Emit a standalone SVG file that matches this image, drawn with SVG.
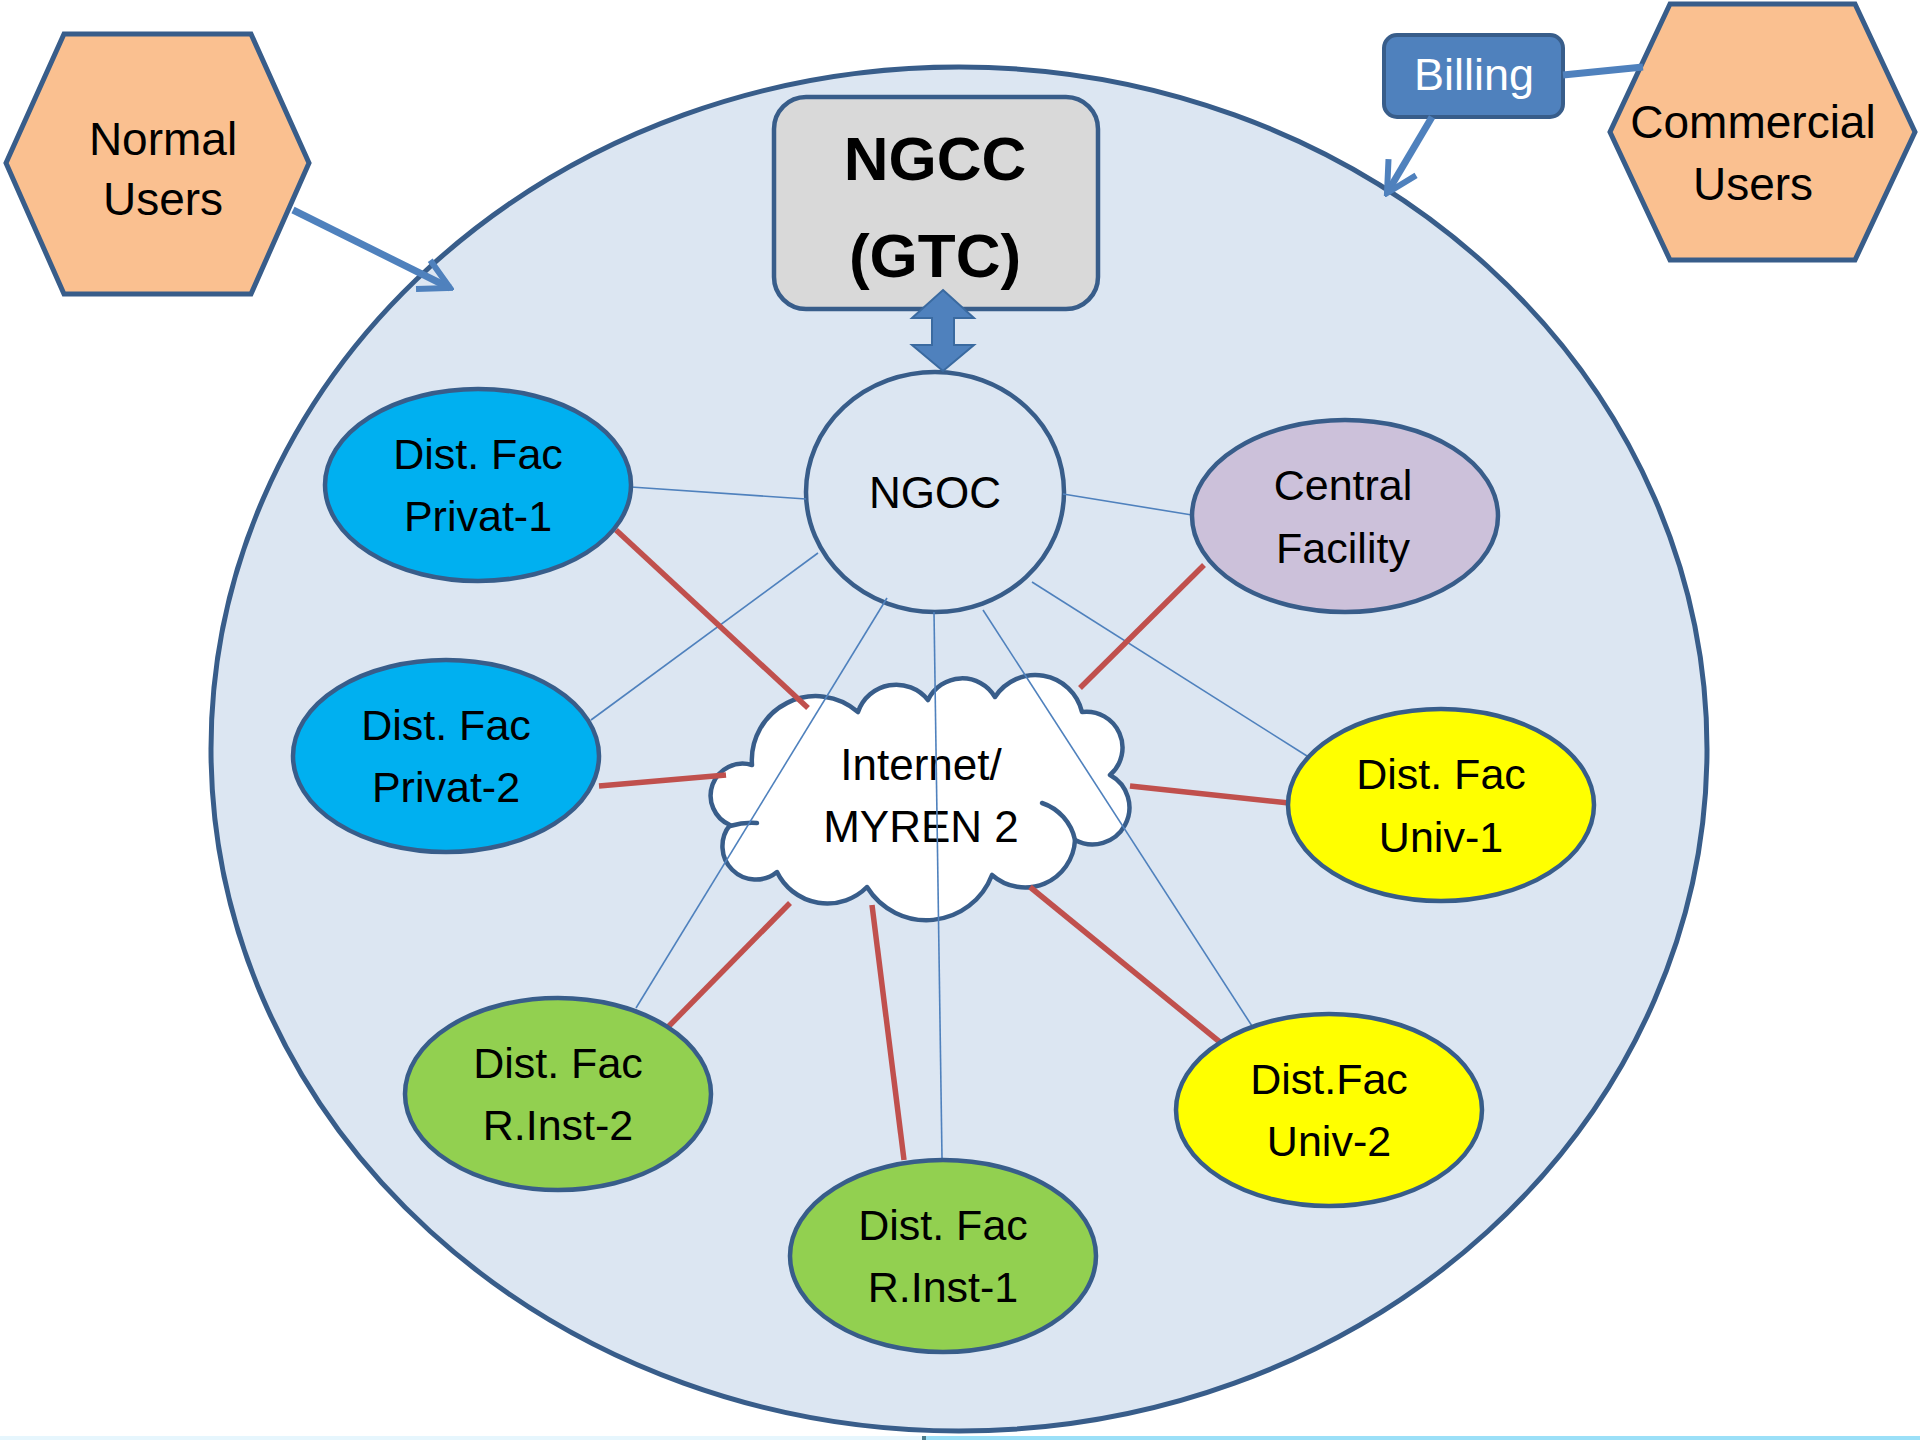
<svg xmlns="http://www.w3.org/2000/svg" width="1920" height="1440" viewBox="0 0 1920 1440">
  <style>
    text { font-family: "Liberation Sans", Arial, sans-serif; fill: #000; text-anchor: middle; }
    .lbl { font-size: 43px; }
    .usr { font-size: 46px; }
    .node { stroke: #385d8a; stroke-width: 4.5; }
    .hex { fill: #fac090; stroke: #385d8a; stroke-width: 5; }
    .thin { stroke: #4f81bd; stroke-width: 1.6; fill: none; }
    .red { stroke: #c0504d; stroke-width: 5.5; fill: none; }
    .arrow { stroke: #4f81bd; stroke-width: 7; fill: none; }
  </style>
  <defs>
    <marker id="openArrow" viewBox="0 0 40 40" refX="36" refY="20" markerWidth="40" markerHeight="40" markerUnits="userSpaceOnUse" orient="auto">
      <path d="M6,4 L36,20 L6,36" fill="none" stroke="#4f81bd" stroke-width="6" stroke-linejoin="miter"/>
    </marker>
  </defs>

  <rect x="0" y="0" width="1920" height="1440" fill="#ffffff"/>

  <!-- bottom strip -->
  <rect x="0" y="1436" width="922" height="4" fill="#e6f6fd"/>
  <rect x="922" y="1436" width="4" height="4" fill="#4a7d8c"/>
  <rect x="926" y="1436" width="994" height="4" fill="#9be0f8"/>

  <g id="system-boundary">
    <ellipse cx="959" cy="749" rx="748" ry="682" fill="#dce6f2" stroke="#385d8a" stroke-width="5"/>
  </g>

  <g id="normal-users">
    <polygon class="hex" points="64,34 251,34 309,163 251,294 64,294 6,163"/>
    <text class="usr" x="163" y="155">Normal</text>
    <text class="usr" x="163" y="215">Users</text>
  </g>

  <g id="commercial-users">
    <polygon class="hex" points="1670,4 1855,4 1915,132 1855,260 1670,260 1610,132"/>
    <text class="usr" x="1753" y="138">Commercial</text>
    <text class="usr" x="1753" y="200">Users</text>
  </g>

  <g id="billing">
    <rect x="1384" y="35" width="179" height="82" rx="13" fill="#4f81bd" stroke="#385d8a" stroke-width="4"/>
    <text x="1474" y="90" font-size="45" style="fill:#ffffff">Billing</text>
  </g>

  <g id="ngcc">
    <rect x="774" y="97" width="324" height="212" rx="32" fill="#d9d9d9" stroke="#385d8a" stroke-width="4.5"/>
    <text x="935" y="180" font-size="62" font-weight="bold">NGCC</text>
    <text x="935" y="277" font-size="62" font-weight="bold">(GTC)</text>
  </g>

  <g id="ngoc">
    <ellipse class="node" cx="935" cy="492" rx="129" ry="120" fill="#dce6f2"/>
    <text x="935" y="508" font-size="44">NGOC</text>
  </g>

  <g id="internet-myren2">
    <path d="M752,765 A64,64 0 0 1 858,712 A40.5,40.5 0 0 1 928,700 A38,38 0 0 1 995,697 A48,48 0 0 1 1082,712 A36,36 0 0 1 1110,775 A36,36 0 1 1 1075,840 A50,50 0 0 1 992,875 A70,70 0 0 1 867,887 A56,56 0 0 1 777,872 A33.4,33.4 0 0 1 730,825 A32,32 0 0 1 752,765 Z" fill="#ffffff" stroke="#385d8a" stroke-width="4.5" stroke-linejoin="round"/>
    <path d="M1042,803 A50,50 0 0 1 1075,840" fill="none" stroke="#385d8a" stroke-width="4.5" stroke-linecap="round"/>
    <path d="M730,826 Q744,822 757,823" fill="none" stroke="#385d8a" stroke-width="4.5" stroke-linecap="round"/>
    <text x="921" y="780" font-size="44">Internet/</text>
    <text x="921" y="842" font-size="44">MYREN 2</text>
  </g>

  <g id="connectors">
    <!-- user / billing arrows -->
    <line class="arrow" x1="293" y1="210" x2="450" y2="288" marker-end="url(#openArrow)"/>
    <line class="arrow" x1="1432" y1="117" x2="1387" y2="193" stroke-width="5.5" marker-end="url(#openArrow)"/>
    <line class="arrow" x1="1563" y1="75" x2="1643" y2="67" stroke-width="5.5"/>
    <!-- NGCC <-> NGOC double arrow -->
    <polygon points="943,290 974,318 954,318 954,345 974,345 943,371 912,345 932,345 932,318 912,318" fill="#4f81bd" stroke="#3a6aa0" stroke-width="2" stroke-linejoin="miter"/>
    <!-- NGOC thin links -->
    <line class="thin" x1="806" y1="499" x2="631" y2="487"/>
    <line class="thin" x1="1063" y1="494" x2="1192" y2="515"/>
    <line class="thin" x1="818" y1="553" x2="591" y2="720"/>
    <line class="thin" x1="887" y1="598" x2="636" y2="1008"/>
    <line class="thin" x1="934" y1="612" x2="942" y2="1158"/>
    <line class="thin" x1="983" y1="610" x2="1252" y2="1026"/>
    <line class="thin" x1="1032" y1="582" x2="1307" y2="756"/>
    <!-- cloud red links -->
    <line class="red" x1="616" y1="530" x2="808" y2="708"/>
    <line class="red" x1="599" y1="786" x2="726" y2="775"/>
    <line class="red" x1="1204" y1="565" x2="1080" y2="688"/>
    <line class="red" x1="1130" y1="786" x2="1289" y2="803"/>
    <line class="red" x1="1030" y1="887" x2="1221" y2="1043"/>
    <line class="red" x1="872" y1="905" x2="904" y2="1160"/>
    <line class="red" x1="790" y1="903" x2="667" y2="1028"/>
  </g>

  <g id="dist-fac-privat-1">
    <ellipse class="node" cx="478" cy="485" rx="153" ry="96" fill="#00b0f0"/>
    <text class="lbl" x="478" y="469">Dist. Fac</text>
    <text class="lbl" x="478" y="531">Privat-1</text>
  </g>

  <g id="dist-fac-privat-2">
    <ellipse class="node" cx="446" cy="756" rx="153" ry="96" fill="#00b0f0"/>
    <text class="lbl" x="446" y="740">Dist. Fac</text>
    <text class="lbl" x="446" y="802">Privat-2</text>
  </g>

  <g id="central-facility">
    <ellipse class="node" cx="1345" cy="516" rx="153" ry="96" fill="#ccc1da"/>
    <text class="lbl" x="1343" y="500">Central</text>
    <text class="lbl" x="1343" y="563">Facility</text>
  </g>

  <g id="dist-fac-univ-1">
    <ellipse class="node" cx="1441" cy="805" rx="153" ry="96" fill="#ffff00"/>
    <text class="lbl" x="1441" y="789">Dist. Fac</text>
    <text class="lbl" x="1441" y="852">Univ-1</text>
  </g>

  <g id="dist-fac-univ-2">
    <ellipse class="node" cx="1329" cy="1110" rx="153" ry="96" fill="#ffff00"/>
    <text class="lbl" x="1329" y="1094">Dist.Fac</text>
    <text class="lbl" x="1329" y="1156">Univ-2</text>
  </g>

  <g id="dist-fac-r-inst-1">
    <ellipse class="node" cx="943" cy="1256" rx="153" ry="96" fill="#92d050"/>
    <text class="lbl" x="943" y="1240">Dist. Fac</text>
    <text class="lbl" x="943" y="1302">R.Inst-1</text>
  </g>

  <g id="dist-fac-r-inst-2">
    <ellipse class="node" cx="558" cy="1094" rx="153" ry="96" fill="#92d050"/>
    <text class="lbl" x="558" y="1078">Dist. Fac</text>
    <text class="lbl" x="558" y="1140">R.Inst-2</text>
  </g>
</svg>
